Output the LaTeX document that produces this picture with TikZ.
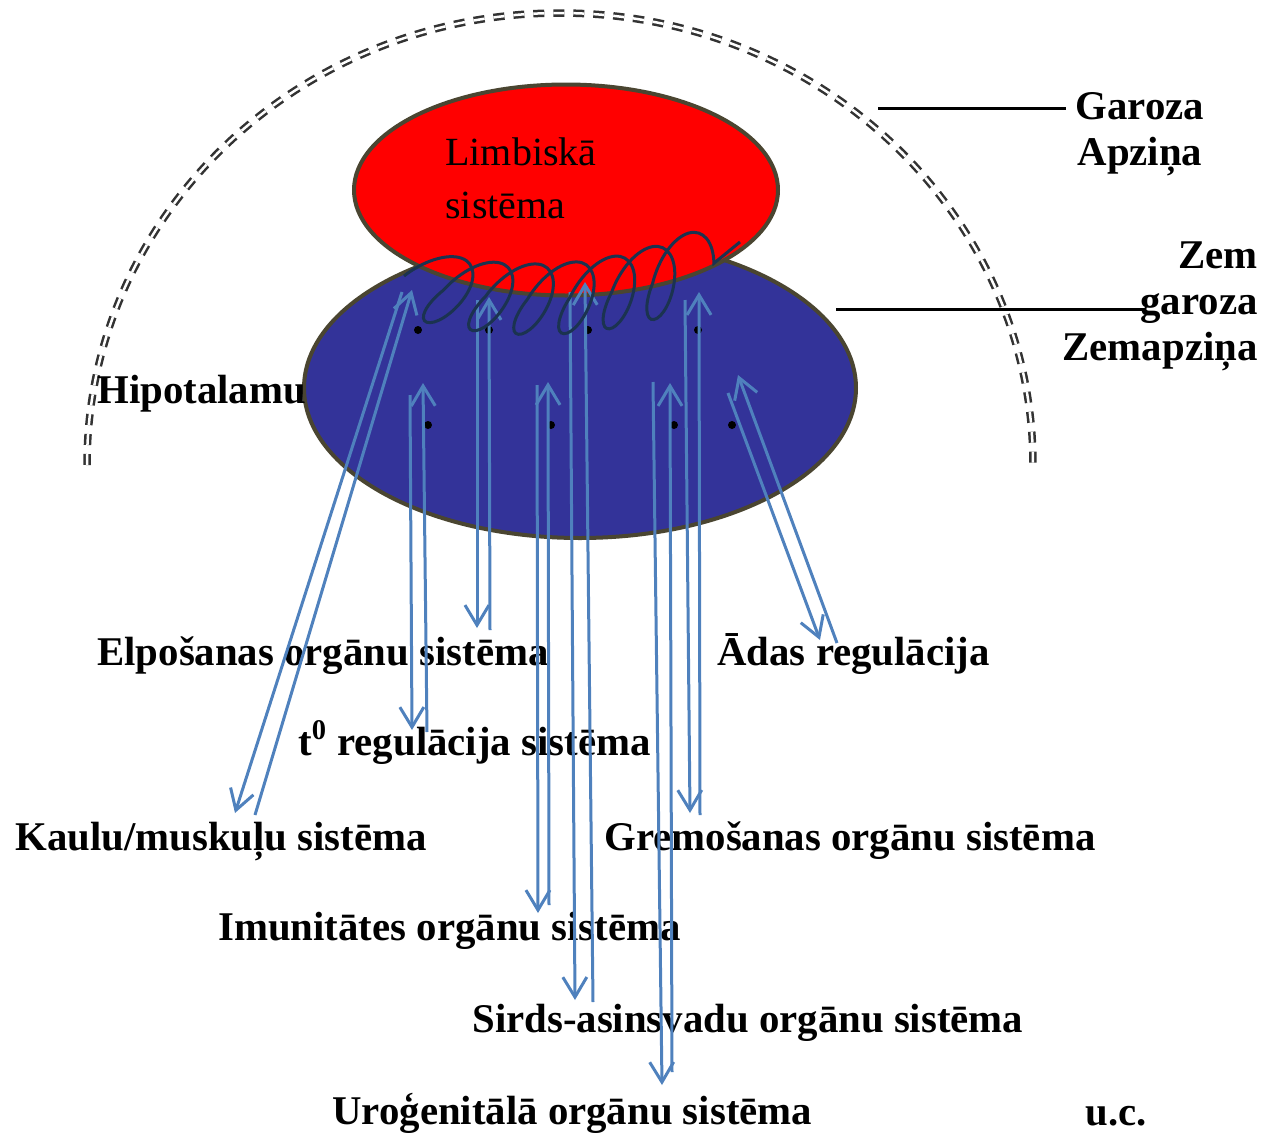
\documentclass[tikz,border=0pt]{standalone}
\usepackage{fontspec}
\setmainfont{Liberation Serif}
\usetikzlibrary{arrows.meta, shapes.geometric, decorations.pathmorphing, positioning}

\definecolor{limbred}{HTML}{FF0000}
\definecolor{hypblue}{HTML}{333399}
\definecolor{rim}{HTML}{4A4531}
\definecolor{arrowblue}{HTML}{4F81BD}
\definecolor{knot}{HTML}{1B3350}
\definecolor{arcgray}{HTML}{333333}

\begin{document}
\begin{tikzpicture}[x=0.5pt, y=-0.5pt,
    blob/.style={ellipse, draw=rim, line width=2pt, inner sep=0pt},
    lbl/.style={anchor=base west, inner sep=0pt, font=\fontsize{20.4}{23}\selectfont\bfseries},
    arr/.style={draw=arrowblue, line width=1.5pt, -{Straight Barb[length=10pt, width=12pt]}},
    pointer/.style={draw=black, line width=1.5pt}]
  \useasboundingbox (0,0) rectangle (1266,1136);

  % garoza (dashed double arc)
  \draw[arcgray, line width=1.25pt, double=white, double distance=1.25pt,
        dash pattern=on 5.5pt off 4.5pt]
    (87,465) arc [start angle=180, end angle=0, x radius=236.5pt, y radius=226pt];

  % hipotalams + limbiska sistema
  \node[blob, fill=hypblue, minimum width=276pt, minimum height=150pt] (hyp) at (580,388) {};
  \node[blob, fill=limbred, minimum width=212pt, minimum height=105.5pt] (limb) at (566,190) {};
  \node[anchor=base west, inner sep=0pt, align=left,
        font=\fontsize{20}{26.5}\selectfont] (limbtxt) at (445,218) {Limbiskā\\sistēma};

  % labels
  \node[lbl] (hipo) at (97,403) {Hipotalamu};
  \node[lbl] (elp) at (97,665) {Elpošanas orgānu sistēma};
  \node[lbl] (ada) at (717,665) {Ādas regulācija};
  \node[lbl] (temp) at (298,755) {t\textsuperscript{0} regulācija sistēma};
  \node[lbl] (kaulu) at (15,850) {Kaulu/muskuļu sistēma};
  \node[lbl] (grem) at (604,850) {Gremošanas orgānu sistēma};
  \node[lbl] (imun) at (218,940) {Imunitātes orgānu sistēma};
  \node[lbl] (sirds) at (472,1032) {Sirds-asinsvadu orgānu sistēma};
  \node[lbl] (uro) at (332,1124) {Uroģenitālā orgānu sistēma};
  \node[lbl] (uc) at (1085,1125) {u.c.};
  \node[lbl, anchor=base, align=center] (garoza) at (1140,165) {Garoza\\Apziņa};
  \node[lbl, anchor=base east, align=right] (zem) at (1258,360) {Zem\\garoza\\Zemapziņa};

  % kodoli
  \foreach \p in {(418,330),(489,330),(588,330),(698,330),(428,425),(551,425),(674,425),(732,425)}
    \fill \p circle (2pt);

  % down line / up line for each system
  \foreach \n/\xa/\ya/\xb/\yb/\xc/\yc/\xd/\yd in {
      kau/402/292/235/813/255/815/412/290,
      elp/477/300/477/628/490/630/489/297,
      tem/410/395/412/730/427/732/423/383,
      imu/537/385/538/913/549/905/548/382,
      sir/570/292/575/1000/593/1002/585/282,
      uro/653/382/662/1085/672/1072/670/383,
      gre/685/300/690/813/700/815/699/292,
      ada/728/393/820/640/837/643/738/375}
  {
    \coordinate (\n-a) at (\xa,\ya);
    \coordinate (\n-b) at (\xb,\yb);
    \coordinate (\n-c) at (\xc,\yc);
    \coordinate (\n-d) at (\xd,\yd);
    \draw[arr] (\n-a) -- (\n-b);
    \draw[arr] (\n-c) -- (\n-d);
  }

  % savijums
  \draw[knot, line width=1.5pt, decorate,
        decoration={coil, aspect=0.6, amplitude=18pt, segment length=21pt,
                    transform={xslant=0.45}}]
    (404,276) .. controls (500,310) and (640,306) .. (740,242);

  % pointer lines
  \coordinate (g1) at (878,108);
  \coordinate (g2) at (1066,108);
  \coordinate (z1) at (836,309);
  \coordinate (z2) at (1145,309);
  \draw[pointer] (g1) -- (g2);
  \draw[pointer] (z1) -- (z2);
\end{tikzpicture}
\end{document}
